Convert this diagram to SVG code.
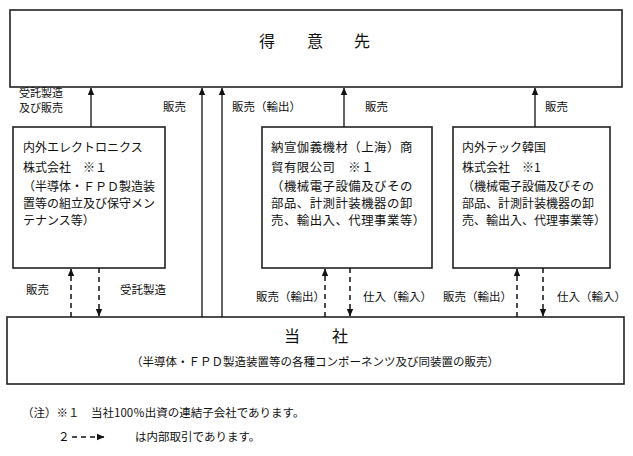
<svg xmlns="http://www.w3.org/2000/svg" width="633" height="456" viewBox="0 0 633 456">
<defs>
<style>
.box{fill:#fff;stroke:#222;stroke-width:1.6}
.ln{stroke:#111;stroke-width:1.3;fill:none}
.dl{stroke:#111;stroke-width:1.5;fill:none;stroke-dasharray:5 4}
text{font-family:"Noto Sans CJK JP","Noto Sans CJK SC",sans-serif;fill:#111;font-size:11.5px}
.bt{font-size:12px}
.bm{font-size:12.4px;letter-spacing:0.5px}
.sm{font-size:11px}
.big{font-size:16px}
</style>
<marker id="ah" markerWidth="8" markerHeight="8" refX="7" refY="4" orient="auto" markerUnits="userSpaceOnUse">
<path d="M0,0.8 L7.5,4 L0,7.2 Z" fill="#111"/>
</marker>
</defs>
<rect width="633" height="456" fill="#fff"/>

<g id="customer">
<rect class="box" x="10" y="10" width="612" height="77"/>
<text class="big" x="267" y="47" text-anchor="middle">得</text>
<text class="big" x="315" y="47" text-anchor="middle">意</text>
<text class="big" x="362" y="47" text-anchor="middle">先</text>
</g>

<g id="naigai-electronics">
<rect class="box" x="13" y="127" width="152" height="141"/>
<text class="bt" x="23" y="152">内外エレクトロニクス</text>
<text class="bt" x="23" y="172">株式会社　※１</text>
<text class="bt" x="23" y="191">（半導体・ＦＰＤ製造装</text>
<text class="bt" x="23" y="208">置等の組立及び保守メン</text>
<text class="bt" x="23" y="225">テナンス等）</text>
</g>

<g id="naigai-shanghai">
<rect class="box" x="262" y="127" width="170" height="141"/>
<text class="bm" x="271" y="152">納宣伽義機材（上海）商</text>
<text class="bm" x="271" y="172">貿有限公司　※１</text>
<text class="bm" x="271" y="191">（機械電子設備及びその</text>
<text class="bm" x="271" y="208">部品、計測計装機器の卸</text>
<text class="bm" x="271" y="225">売、輸出入、代理事業等）</text>
</g>

<g id="naigai-tec-korea">
<rect class="box" x="453" y="127" width="157" height="141"/>
<text class="bt" x="462" y="152">内外テック韓国</text>
<text class="bt" x="462" y="172">株式会社　※1</text>
<text class="bt" x="462" y="191">（機械電子設備及びその</text>
<text class="bt" x="462" y="208">部品、計測計装機器の卸</text>
<text class="bt" x="462" y="225">売、輸出入、代理事業等）</text>
</g>

<g id="company">
<rect class="box" x="7" y="317" width="617" height="67"/>
<text class="big" x="292" y="342" text-anchor="middle">当</text>
<text class="big" x="340" y="342" text-anchor="middle">社</text>
<text x="315" y="366" text-anchor="middle">（半導体・ＦＰＤ製造装置等の各種コンポーネンツ及び同装置の販売）</text>
</g>

<g id="connectors">
<line class="ln" x1="91" y1="127" x2="91" y2="88" marker-end="url(#ah)"/>
<line class="ln" x1="202" y1="317" x2="202" y2="88" marker-end="url(#ah)"/>
<line class="ln" x1="222" y1="317" x2="222" y2="88" marker-end="url(#ah)"/>
<line class="ln" x1="344" y1="127" x2="344" y2="88" marker-end="url(#ah)"/>
<line class="ln" x1="535" y1="127" x2="535" y2="88" marker-end="url(#ah)"/>
<line class="dl" x1="71" y1="317" x2="71" y2="269" marker-end="url(#ah)"/>
<line class="dl" x1="99" y1="268" x2="99" y2="316" marker-end="url(#ah)"/>
<line class="dl" x1="325" y1="317" x2="325" y2="269" marker-end="url(#ah)"/>
<line class="dl" x1="350" y1="268" x2="350" y2="316" marker-end="url(#ah)"/>
<line class="dl" x1="517" y1="317" x2="517" y2="269" marker-end="url(#ah)"/>
<line class="dl" x1="543" y1="268" x2="543" y2="316" marker-end="url(#ah)"/>
</g>

<g id="labels">
<text class="sm" x="19" y="96.5">受託製造</text>
<text class="sm" x="19" y="112">及び販売</text>
<text x="163" y="111">販売</text>
<text x="232" y="111">販売（輸出）</text>
<text x="365" y="111">販売</text>
<text x="545" y="111">販売</text>
<text x="26" y="294">販売</text>
<text x="120" y="294">受託製造</text>
<text x="256" y="301">販売（輸出）</text>
<text x="363" y="301">仕入（輸入）</text>
<text x="443" y="301">販売（輸出）</text>
<text x="557" y="301">仕入（輸入）</text>
</g>

<g id="notes">
<text x="22" y="417">（注）※１　当社100％出資の連結子会社であります。</text>
<text x="58" y="441">２</text>
<line class="dl" x1="72" y1="437" x2="104" y2="437" stroke-dasharray="4 3" marker-end="url(#ah)"/>
<text x="135" y="441">は内部取引であります。</text>
</g>
</svg>
